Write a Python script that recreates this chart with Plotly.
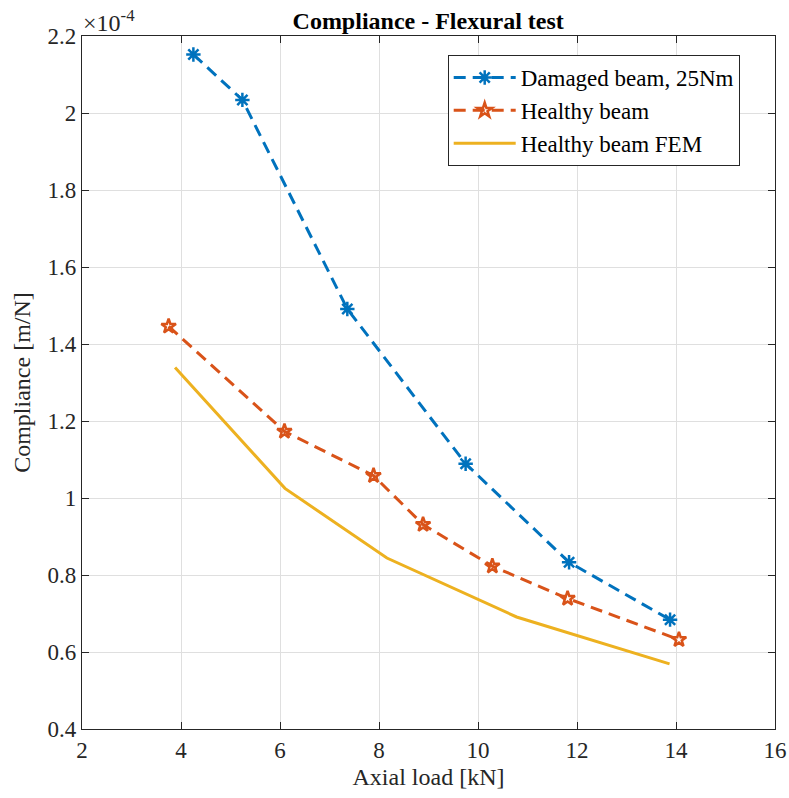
import plotly.graph_objects as go

# Compliance values are given in units of 1e-4 m/N (see the axis multiplier)
damaged_load = [4.25, 5.24, 7.36, 9.75, 11.84, 13.88]
damaged_compliance = [2.152, 2.034, 1.491, 1.089, 0.833, 0.684]

healthy_load = [3.75, 6.09, 7.89, 8.89, 10.29, 11.81, 14.06]
healthy_compliance = [1.446, 1.173, 1.058, 0.931, 0.823, 0.739, 0.632]

fem_load = [3.88, 6.10, 8.16, 10.78, 13.87]
fem_compliance = [1.339, 1.025, 0.844, 0.691, 0.569]

x_ticks = [2, 4, 6, 8, 10, 12, 14, 16]
y_ticks = [0.4, 0.6, 0.8, 1.0, 1.2, 1.4, 1.6, 1.8, 2.0, 2.2]
y_tick_text = ["0.4", "0.6", "0.8", "1", "1.2", "1.4", "1.6", "1.8", "2", "2.2"]

BLUE = "#0072BD"
ORANGE = "#D95319"
YELLOW = "#EDB120"
AXIS = "#262626"
GRID = "#dfdfdf"
FONT = "Liberation Serif"

W, H = 789, 798
L, R, T, B = 82, 14, 36, 69

fig = go.Figure()

fig.add_trace(go.Scatter(
    x=damaged_load, y=damaged_compliance, mode="lines+markers",
    name="Damaged beam, 25Nm",
    line=dict(color=BLUE, width=3, dash="12px,7px"),
    marker=dict(symbol="asterisk-open", size=12, color=BLUE,
                line=dict(color=BLUE, width=2.5)),
))
fig.add_trace(go.Scatter(
    x=healthy_load, y=healthy_compliance, mode="lines+markers",
    name="Healthy beam",
    line=dict(color=ORANGE, width=3, dash="12px,7px"),
    marker=dict(symbol="star-open", size=11, color=ORANGE,
                line=dict(color=ORANGE, width=2.5)),
))
fig.add_trace(go.Scatter(
    x=fem_load, y=fem_compliance, mode="lines",
    name="Healthy beam FEM",
    line=dict(color=YELLOW, width=3),
))

axis_common = dict(
    showline=True, linecolor=AXIS, linewidth=1.2, mirror="ticks",
    ticks="inside", ticklen=7, tickcolor=AXIS, tickwidth=1.2,
    showgrid=True, gridcolor=GRID, gridwidth=1, zeroline=False,
    tickfont=dict(family=FONT, size=23, color=AXIS),
)

fig.update_xaxes(
    range=[2, 16], tickvals=x_ticks, **axis_common,
    title=dict(text="Axial load [kN]", font=dict(family=FONT, size=24, color=AXIS), standoff=6),
)
fig.update_yaxes(
    range=[0.4, 2.2], tickvals=y_ticks, ticktext=y_tick_text, **axis_common,
    title=dict(text="Compliance [m/N]", font=dict(family=FONT, size=24, color=AXIS), standoff=10),
)

# axis multiplier label above the y axis
fig.add_annotation(
    xref="paper", yref="paper", x=0.0, y=1.0, xanchor="left", yanchor="bottom",
    yshift=-2, xshift=-1,
    text="×10<sup>-4</sup>", showarrow=False,
    font=dict(family=FONT, size=24, color=AXIS),
)

fig.update_layout(
    width=W, height=H,
    margin=dict(l=L, r=R, t=T, b=B, autoexpand=False),
    paper_bgcolor="white", plot_bgcolor="white",
    title=dict(text="<b>Compliance - Flexural test</b>", x=0.5427, xanchor="center",
               y=1 - 21 / H, yanchor="middle", yref="container",
               font=dict(family=FONT, size=24, color="black")),
    legend=dict(
        x=(447.7 - L) / (W - L - R), y=(H - B - 55) / (H - T - B),
        xanchor="left", yanchor="top",
        bgcolor="white", bordercolor=AXIS, borderwidth=1,
        font=dict(family=FONT, size=23, color="black"),
        tracegroupgap=0, itemwidth=62,
    ),
    showlegend=True,
)

fig.write_html("out.html")
